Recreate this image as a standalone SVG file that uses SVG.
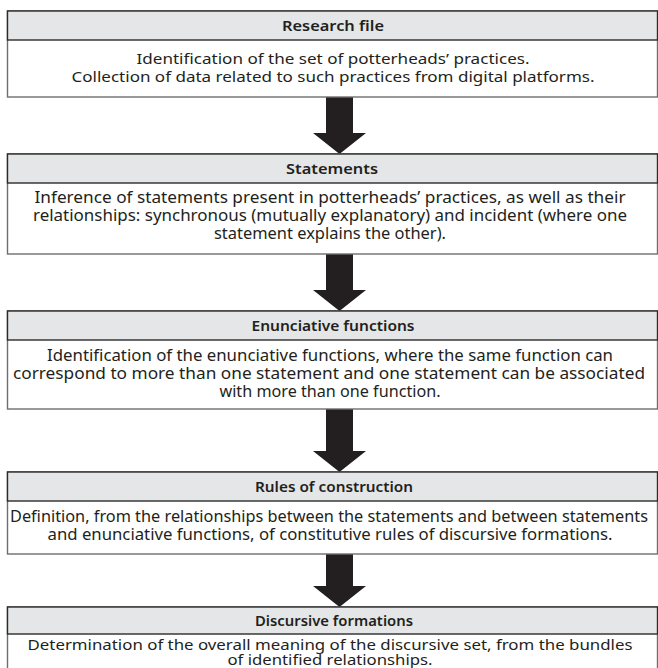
<svg xmlns="http://www.w3.org/2000/svg" width="658" height="668" viewBox="0 0 658 668">
<style>
.box{fill:#ffffff;stroke:#6e6e6e;stroke-width:1.4}
.hdr{fill:#e5e6e7;stroke:#2b2b2b;stroke-width:1.4}
.ttl{font-family:"Noto Sans","Open Sans",sans-serif;font-size:15px;font-weight:600;fill:#231f20;text-anchor:middle}
.txt{font-family:"Noto Sans","Open Sans",sans-serif;font-size:15px;fill:#231f20;text-anchor:middle}
.cnd{font-family:"Noto Sans","Open Sans",sans-serif;font-size:15.5px;fill:#231f20;text-anchor:middle}
.arr{fill:#231f20}
</style>
<rect width="658" height="668" fill="#ffffff"/>
<g id="connectors">
<path class="arr" d="M326,97 H353 V133 H366 L339.5,154 L313,133 H326 Z"/>
<path class="arr" d="M326,254 H353 V290 H366 L339.5,311 L313,290 H326 Z"/>
<path class="arr" d="M326,409 H353 V451 H366 L339.5,472 L313,451 H326 Z"/>
<path class="arr" d="M326,554 H353 V586 H366 L339.5,607 L313,586 H326 Z"/>
</g>
<g id="node-research-file">
<rect class="box" x="7.5" y="11" width="650" height="86"/>
<rect class="hdr" x="7.5" y="11" width="650" height="29"/>
<text class="ttl" x="333" y="31" textLength="102" lengthAdjust="spacingAndGlyphs">Research file</text>
<text class="txt" x="333" y="64" textLength="393" lengthAdjust="spacingAndGlyphs">Identification of the set of potterheads’ practices.</text>
<text class="txt" x="333" y="82" textLength="523" lengthAdjust="spacingAndGlyphs">Collection of data related to such practices from digital platforms.</text>
</g>
<g id="node-statements">
<rect class="box" x="7.5" y="154" width="650" height="100"/>
<rect class="hdr" x="7.5" y="154" width="650" height="29"/>
<text class="ttl" x="332" y="174" textLength="92" lengthAdjust="spacingAndGlyphs">Statements</text>
<text class="cnd" x="330" y="203" textLength="591" lengthAdjust="spacingAndGlyphs">Inference of statements present in potterheads’ practices, as well as their</text>
<text class="cnd" x="330" y="221" textLength="594" lengthAdjust="spacingAndGlyphs">relationships: synchronous (mutually explanatory) and incident (where one</text>
<text class="cnd" x="330" y="239" textLength="232" lengthAdjust="spacingAndGlyphs">statement explains the other).</text>
</g>
<g id="node-enunciative-functions">
<rect class="box" x="7.5" y="311" width="650" height="98"/>
<rect class="hdr" x="7.5" y="311" width="650" height="29"/>
<text class="ttl" x="333" y="331" textLength="163" lengthAdjust="spacingAndGlyphs">Enunciative functions</text>
<text class="cnd" x="330" y="361" textLength="566" lengthAdjust="spacingAndGlyphs">Identification of the enunciative functions, where the same function can</text>
<text class="cnd" x="329" y="379" textLength="632" lengthAdjust="spacingAndGlyphs">correspond to more than one statement and one statement can be associated</text>
<text class="cnd" x="330" y="397" textLength="221" lengthAdjust="spacingAndGlyphs">with more than one function.</text>
</g>
<g id="node-rules-of-construction">
<rect class="box" x="7.5" y="472" width="650" height="82"/>
<rect class="hdr" x="7.5" y="472" width="650" height="29"/>
<text class="ttl" x="334" y="492" textLength="158" lengthAdjust="spacingAndGlyphs">Rules of construction</text>
<text class="cnd" x="329" y="522" textLength="638" lengthAdjust="spacingAndGlyphs">Definition, from the relationships between the statements and between statements</text>
<text class="cnd" x="330" y="540" textLength="565" lengthAdjust="spacingAndGlyphs">and enunciative functions, of constitutive rules of discursive formations.</text>
</g>
<g id="node-discursive-formations">
<rect class="box" x="7.5" y="607" width="650" height="80"/>
<rect class="hdr" x="7.5" y="607" width="650" height="27"/>
<text class="ttl" x="334" y="626" textLength="158" lengthAdjust="spacingAndGlyphs">Discursive formations</text>
<text class="txt" x="330" y="650" textLength="605" lengthAdjust="spacingAndGlyphs">Determination of the overall meaning of the discursive set, from the bundles</text>
<text class="txt" x="330" y="665" textLength="205" lengthAdjust="spacingAndGlyphs">of identified relationships.</text>
</g>
</svg>
